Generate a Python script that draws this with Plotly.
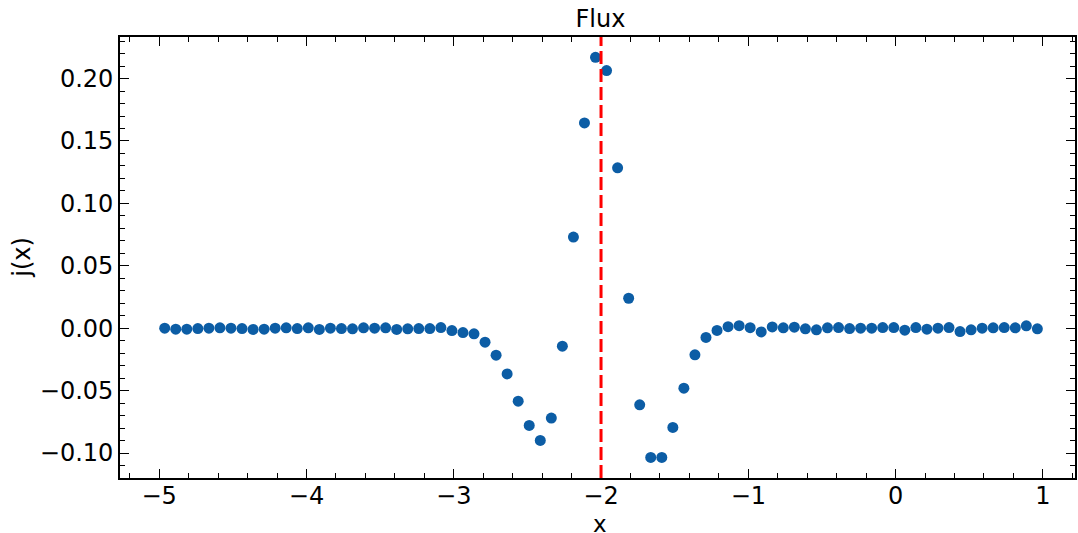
import numpy as np
import plotly.graph_objects as go

# ---- data ----
x_start = -4.9625
x_step = 0.075
flux = [
    0.0, -0.0008, -0.0008, -0.0003, 0.0, 0.0003, 0.0, -0.0003, -0.001, -0.0008,
    0.0, 0.0003, -0.0003, 0.0003, -0.001, 0.0, -0.0003, -0.0005, 0.0003, 0.0,
    0.0003, -0.001, -0.0005, -0.0003, -0.0003, 0.0005, -0.0019, -0.0035, -0.0045, -0.0112,
    -0.0216, -0.0366, -0.0585, -0.0779, -0.0899, -0.072, -0.0144, 0.073, 0.1645, 0.217,
    0.2064, 0.1285, 0.024, -0.0614, -0.1035, -0.1035, -0.0795, -0.048, -0.0213, -0.0074,
    -0.0018, 0.0012, 0.002, 0.0004, -0.003, 0.001, 0.0003, 0.0008, -0.0005, -0.0013,
    0.0003, 0.0005, -0.0003, 0.0, 0.0, 0.0005, 0.0005, -0.0016, 0.0005, -0.0008,
    0.0, 0.0005, -0.0027, -0.0013, 0.0, 0.0003, 0.0005, 0.0003, 0.0019, -0.0005,
]
x_vals = [round(x_start + x_step * i, 4) for i in range(len(flux))]
vline_x = -2.0

x_tickvals = [-5, -4, -3, -2, -1, 0, 1]
x_ticktext = ["\u22125", "\u22124", "\u22123", "\u22122", "\u22121", "0", "1"]
y_tickvals = [-0.10, -0.05, 0.00, 0.05, 0.10, 0.15, 0.20]
y_ticktext = ["\u22120.10", "\u22120.05", "0.00", "0.05", "0.10", "0.15", "0.20"]

title_text = "Flux"
x_label = "x"
y_label = "j(x)"

FONT = "DejaVu Sans"
W, H = 1078, 533
ML, MR, MT, MB = 120, 1, 37, 55

fig = go.Figure()
fig.add_trace(go.Scatter(
    x=x_vals, y=flux, mode="markers",
    marker=dict(color="#0C5DA5", size=11, line=dict(width=0)),
    showlegend=False,
))
fig.add_vline(x=vline_x, line=dict(color="#FF0000", width=3, dash="13px,5px"))

axis_common = dict(
    showgrid=False, zeroline=False, showline=True, linecolor="black", linewidth=1.6,
    mirror="allticks", ticks="inside", ticklen=9, tickwidth=1.4, tickcolor="black",
    tickfont=dict(family=FONT, size=24, color="black"),
)
fig.update_xaxes(
    range=[-5.266, 1.218], tickmode="array", tickvals=x_tickvals, ticktext=x_ticktext,
    ticklabelstandoff=-5,
    minor=dict(ticks="inside", dtick=0.2, tick0=0, ticklen=5, tickwidth=1.2, tickcolor="black"),
    **axis_common,
)
fig.update_yaxes(
    range=[-0.12, 0.2333], tickmode="array", tickvals=y_tickvals, ticktext=y_ticktext,
    minor=dict(ticks="inside", dtick=0.01, tick0=0, ticklen=5, tickwidth=1.2, tickcolor="black"),
    **axis_common,
)

pw = W - ML - MR
fig.update_layout(
    width=W, height=H,
    margin=dict(l=ML, r=MR, t=MT, b=MB, pad=0),
    plot_bgcolor="white", paper_bgcolor="white",
    font=dict(family=FONT, color="black"),
    title=dict(text=title_text, x=(601.5 - ML) / pw, xref="paper", xanchor="center",
               y=1 - 19 / H, yref="container", yanchor="middle",
               font=dict(family=FONT, size=24, color="black")),
    annotations=[
        dict(text=x_label, x=(601.5 - ML) / pw, xref="paper", y=-(524 - (H - MB)) / (H - MT - MB),
             yref="paper", showarrow=False, xanchor="center", yanchor="middle",
             font=dict(family=FONT, size=23, color="black")),
        dict(text=y_label, x=-(ML - 21) / pw, xref="paper", y=0.5, yref="paper",
             showarrow=False, textangle=-90, xanchor="center", yanchor="middle",
             font=dict(family=FONT, size=24, color="black")),
    ],
)

fig.write_html("out.html", config={"displayModeBar": False},
               post_script="document.body.style.margin='0';document.body.style.overflow='hidden';")
